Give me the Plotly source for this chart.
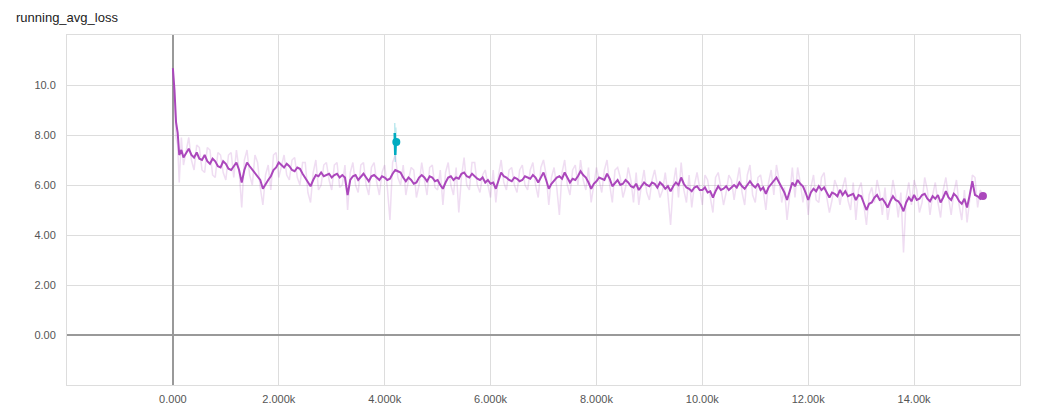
import plotly.graph_objects as go

# ---- data ----
steps = [0, 30, 60, 90, 120, 160, 200] + list(range(300, 15301, 50))

loss_smoothed = [10.67, 9.8, 8.5, 8.1, 7.2, 7.4, 7.1,
    7.45, 7.2, 7.1, 7.3, 7.05, 7.0, 7.2, 6.95, 6.85, 7.05, 6.95, 6.75, 6.7, 6.95, 6.85, 6.65, 6.6, 6.75, 6.9, 6.6,
    6.1, 6.6, 6.9, 6.75, 6.6, 6.5, 6.3, 6.2, 5.85, 6.05, 6.2, 6.35, 6.6, 6.7, 6.9, 6.8, 6.7, 6.85, 6.75, 6.6,
    6.55, 6.7, 6.65, 6.45, 6.3, 6.15, 5.95, 6.2, 6.4, 6.35, 6.5, 6.35, 6.4, 6.45, 6.3, 6.4, 6.45, 6.3, 6.4, 6.3,
    5.6, 6.2, 6.35, 6.4, 6.2, 6.35, 6.45, 6.3, 6.15, 6.35, 6.4, 6.3, 6.2, 6.35, 6.3, 6.2, 6.25, 6.45, 6.6, 6.55,
    6.5, 6.3, 6.15, 6.3, 6.2, 6.05, 6.1, 6.3, 6.4, 6.3, 6.15, 6.35, 6.3, 6.15, 6.2, 6.0, 5.85, 6.1, 6.3, 6.35,
    6.2, 6.3, 6.25, 6.45, 6.5, 6.35, 6.3, 6.45, 6.35, 6.25, 6.2, 6.3, 6.1, 6.2, 6.05, 6.1, 5.85, 6.2, 6.5, 6.35,
    6.3, 6.2, 6.15, 6.3, 6.25, 6.15, 6.2, 6.35, 6.3, 6.25, 6.4, 6.3, 6.1, 6.3, 6.5, 6.2, 5.85, 6.05, 6.2, 6.3,
    6.35, 6.25, 6.5, 6.3, 6.1, 6.25, 6.2, 6.35, 6.55, 6.4, 6.3, 6.1, 5.85, 6.05, 6.15, 6.3, 6.25, 6.2, 6.45, 6.25,
    5.95, 6.1, 6.2, 6.0, 6.05, 6.2, 6.1, 5.95, 5.9, 6.05, 5.8, 5.95, 6.1, 6.0, 5.95, 6.1, 6.05, 5.9, 6.1, 6.0,
    5.85, 5.95, 5.75, 5.95, 6.1, 6.0, 6.3, 6.05, 5.9, 5.85, 5.75, 5.9, 5.95, 5.8, 5.8, 5.9, 5.7, 5.75, 5.5, 5.75,
    5.95, 5.8, 5.85, 5.95, 5.8, 5.9, 6.0, 5.9, 6.1, 5.95, 5.85, 6.0, 6.15, 6.0, 5.9, 6.05, 5.8, 5.9, 5.65, 5.9,
    6.05, 6.15, 6.3, 6.1, 5.9, 5.7, 5.4, 5.8, 6.1, 5.95, 6.2, 6.05, 5.95, 5.7, 5.4, 5.7, 5.85, 5.75, 5.95, 5.8,
    5.9, 5.7, 5.5, 5.7, 5.65, 5.55, 5.8, 5.6, 5.75, 5.55, 5.6, 5.65, 5.4, 5.6, 5.55, 5.3, 5.0, 5.25, 5.3, 5.5,
    5.6, 5.4, 5.45, 5.3, 5.1, 5.35, 5.55, 5.4, 5.35, 5.2, 4.95, 5.3, 5.5, 5.35, 5.6, 5.4, 5.45, 5.6, 5.65, 5.45,
    5.35, 5.55, 5.45, 5.6, 5.3, 5.5, 5.75, 5.5, 5.4, 5.65, 5.55, 5.35, 5.25, 5.45, 5.1, 5.6, 6.15, 5.6, 5.55, 5.45,
    5.56]

loss_raw = [10.67, 9.3, 7.9, 7.6, 6.1, 7.9, 6.8,
    7.9, 7.0, 6.6, 7.6, 7.5, 6.6, 6.5, 7.5, 7.4, 6.4, 6.3, 7.3, 7.2, 6.5, 6.2, 7.2, 7.3, 6.3, 7.4, 6.6,
    5.1, 7.0, 7.4, 6.4, 6.0, 7.2, 6.9, 5.9, 5.2, 6.4, 6.8, 5.8, 7.2, 7.3, 6.3, 6.7, 7.2, 6.4, 6.2, 7.0,
    7.1, 6.3, 6.0, 6.9, 6.9, 5.7, 5.3, 6.5, 7.0, 5.8, 6.0, 6.8, 6.9, 6.2, 5.8, 6.8, 6.9, 5.9, 6.0, 6.8,
    5.0, 6.5, 6.9, 6.0, 5.7, 6.8, 6.9, 6.0, 5.6, 6.7, 6.9, 6.1, 5.6, 6.5, 6.8, 5.9, 4.6, 6.9, 7.2, 6.3,
    6.0, 6.8, 5.6, 6.2, 6.7, 6.6, 5.5, 6.0, 6.9, 6.2, 5.6, 6.7, 6.8, 5.9, 5.8, 6.6, 5.2, 6.5, 6.9, 6.0,
    5.6, 6.7, 4.9, 6.3, 7.1, 6.0, 5.8, 6.9, 6.9, 6.0, 5.7, 6.4, 6.6, 6.0, 5.5, 6.6, 5.3, 6.4, 7.0, 6.1,
    5.8, 6.6, 6.7, 6.0, 5.7, 6.6, 6.8, 6.0, 5.8, 6.6, 6.9, 6.0, 5.5, 6.7, 7.0, 6.4, 5.2, 6.3, 6.7, 5.9,
    4.8, 6.5, 7.0, 6.0, 5.6, 6.6, 6.8, 6.0, 7.0, 6.2, 5.8, 6.7, 5.3, 6.0, 6.7, 6.2, 5.7, 6.6, 7.0, 6.0,
    5.3, 6.6, 6.7, 6.3, 5.5, 5.9, 6.7, 6.2, 5.3, 6.5, 5.2, 6.0, 6.6, 5.7, 5.4, 6.2, 6.6, 6.0, 5.5, 5.8,
    6.5, 5.6, 4.4, 6.0, 6.7, 5.5, 6.9, 5.8, 5.3, 6.4, 5.1, 6.0, 6.5, 5.9, 5.2, 6.4, 6.2, 5.5, 4.9, 6.3,
    6.5, 5.9, 5.2, 5.7, 6.4, 6.2, 5.4, 6.1, 6.7, 5.7, 5.2, 6.4, 6.8, 5.6, 5.3, 6.3, 6.4, 5.8, 5.0, 6.1,
    6.6, 5.6, 6.8, 6.2, 5.3, 5.9, 4.6, 5.6, 6.7, 5.5, 6.7, 6.1, 5.3, 6.0, 4.8, 5.9, 6.4, 5.4, 5.3, 6.3,
    6.5, 5.5, 4.9, 5.4, 6.2, 5.9, 5.2, 5.9, 6.3, 5.4, 5.0, 6.1, 4.6, 5.8, 6.1, 5.2, 4.4, 5.6, 5.9, 5.3,
    6.2, 5.7, 4.8, 5.9, 4.6, 5.3, 6.2, 5.6, 4.7, 5.7, 3.3, 5.5, 6.1, 5.2, 6.2, 5.8, 4.9, 5.3, 6.3, 5.8,
    4.8, 5.6, 6.1, 5.3, 4.7, 5.8, 6.3, 5.5, 4.8, 5.7, 6.2, 5.2, 4.6, 5.8, 4.5, 5.4, 6.4, 6.3, 5.1, 5.8,
    5.56]

run2_steps = [4190, 4200, 4210, 4220]
run2_raw = [8.48, 6.92, 8.3, 7.6]
run2_smoothed = [8.08, 7.2, 7.75, 7.72]

x_tickvals = [-2000, 0, 2000, 4000, 6000, 8000, 10000, 12000, 14000, 16000]
x_ticktext = ["", "0.000", "2.000k", "4.000k", "6.000k", "8.000k",
              "10.00k", "12.00k", "14.00k", ""]
y_tickvals = [-2, 0, 2, 4, 6, 8, 10, 12]
y_ticktext = ["", "0.00", "2.00", "4.00", "6.00", "8.00", "10.0", ""]

n = min(len(steps), len(loss_smoothed), len(loss_raw))

PURPLE = "#ab47bc"
CYAN = "#00acc1"

fig = go.Figure()
fig.add_trace(go.Scatter(x=steps[:n], y=loss_raw[:n], mode="lines",
                         line=dict(color=PURPLE, width=1.5), opacity=0.18,
                         hoverinfo="skip", showlegend=False))
fig.add_trace(go.Scatter(x=run2_steps, y=run2_raw, mode="lines",
                         line=dict(color=CYAN, width=1.5), opacity=0.25,
                         hoverinfo="skip", showlegend=False))
fig.add_trace(go.Scatter(x=steps[:n], y=loss_smoothed[:n], mode="lines",
                         line=dict(color=PURPLE, width=2), showlegend=False))
fig.add_trace(go.Scatter(x=run2_steps, y=run2_smoothed, mode="lines",
                         line=dict(color=CYAN, width=2.5), showlegend=False))
fig.add_trace(go.Scatter(x=[steps[n - 1]], y=[loss_smoothed[n - 1]], mode="markers",
                         marker=dict(color=PURPLE, size=8), showlegend=False))
fig.add_trace(go.Scatter(x=[run2_steps[-1]], y=[run2_smoothed[-1]], mode="markers",
                         marker=dict(color=CYAN, size=8), showlegend=False))

fig.update_layout(
    width=1049, height=412,
    margin=dict(l=67, r=29, t=35, b=27, autoexpand=False),
    paper_bgcolor="white", plot_bgcolor="white",
    font=dict(family="Liberation Sans, Arial, sans-serif", size=11, color="#555"),
    title=dict(text="running_avg_loss", x=16 / 1049, xanchor="left",
               y=1 - 17 / 412, yanchor="middle",
               font=dict(size=13, color="#222")),
    showlegend=False,
)
fig.update_xaxes(range=[-2000, 16000], tickvals=x_tickvals, ticktext=x_ticktext,
                 showgrid=True, gridcolor="#dddddd", gridwidth=1,
                 zeroline=True, zerolinecolor="#999999", zerolinewidth=1.5,
                 showline=True, linecolor="#dddddd", linewidth=1, mirror=True,
                 ticks="", ticklabelstandoff=4, automargin=False)
fig.update_yaxes(range=[-2, 12], tickvals=y_tickvals, ticktext=y_ticktext,
                 showgrid=True, gridcolor="#dddddd", gridwidth=1,
                 zeroline=True, zerolinecolor="#999999", zerolinewidth=1.5,
                 showline=True, linecolor="#dddddd", linewidth=1, mirror=True,
                 ticks="", ticklabelstandoff=8, automargin=False)

fig.write_html("out.html", config={"displayModeBar": False},
               post_script="document.body.style.margin='0';document.body.style.overflow='hidden';")
